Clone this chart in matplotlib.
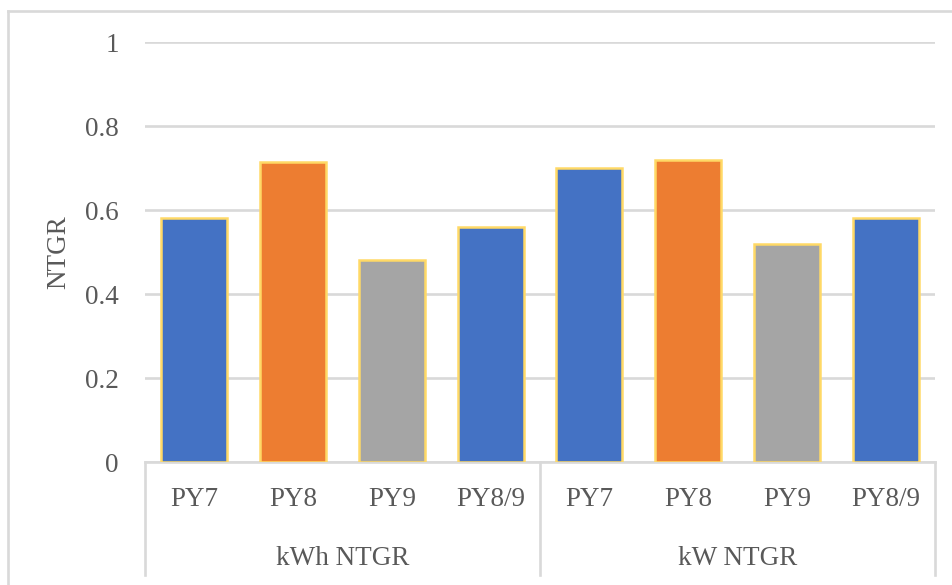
import matplotlib
matplotlib.use("Agg")
import matplotlib.pyplot as plt
from matplotlib.lines import Line2D

# Net-to-gross ratios by program year, for energy (kWh) and demand (kW)
groups = ["kWh NTGR", "kW NTGR"]
periods = ["PY7", "PY8", "PY9", "PY8/9"]
kwh_ntgr = [0.58, 0.715, 0.48, 0.56]
kw_ntgr = [0.70, 0.72, 0.52, 0.58]
period_colors = ["#4472C4", "#ED7D31", "#A5A5A5", "#4472C4"]
y_ticks = [0, 0.2, 0.4, 0.6, 0.8, 1.0]
y_tick_labels = ["0", "0.2", "0.4", "0.6", "0.8", "1"]

text_color = "#595959"
grid_color = "#D9D9D9"
fs = 19.5
plt.rcParams["font.family"] = ["Liberation Serif", "DejaVu Serif"]

fig = plt.figure(figsize=(9.52, 5.85), dpi=100)
W, H = 952, 585
left, right, top, bottom = 145, 935, 42, 462
ax = fig.add_axes([left / W, 1 - bottom / H, (right - left) / W, (bottom - top) / H])

values = kwh_ntgr + kw_ntgr
colors = period_colors * len(groups)
x = list(range(len(values)))
ax.bar(x, values, width=0.67, color=colors, edgecolor="#FFD966", linewidth=1.8, zorder=3)

ax.set_xlim(-0.5, len(values) - 0.5)
ax.set_ylim(0, 1)
ax.set_yticks(y_ticks)
ax.set_yticklabels(y_tick_labels)
ax.tick_params(axis="y", length=0, pad=19, labelsize=fs, labelcolor=text_color)
ax.set_xticks([])
ax.yaxis.grid(True, color=grid_color, linewidth=1.9, zorder=0)
for s in ["top", "right", "left"]:
    ax.spines[s].set_visible(False)
ax.spines["bottom"].set_color(grid_color)
ax.spines["bottom"].set_linewidth(1.9)

ax.set_ylabel("NTGR", fontsize=fs, color=text_color)
ax.yaxis.set_label_coords((71 - left) / (right - left), 0.5)

# Two-level category axis below the plot
depth = -(575 - bottom) / (bottom - top)
trans = ax.get_xaxis_transform()
n = len(periods)
for k in range(len(groups) + 1):
    xs = k * n - 0.5
    ax.plot([xs, xs], [0, depth], transform=trans, color=grid_color,
            linewidth=1.9, clip_on=False)
for i, xi in enumerate(x):
    ax.text(xi, -0.09, periods[i % n], transform=trans, ha="center", va="center",
            fontsize=fs, color=text_color)
for g, name in enumerate(groups):
    ax.text(g * n + (n - 1) / 2, -0.229, name, transform=trans, ha="center",
            va="center", fontsize=fs, color=text_color)

# Chart frame
fig.add_artist(Line2D([8 / W, 8 / W], [0, 1 - 11 / H], transform=fig.transFigure,
                      color=grid_color, linewidth=1.9))
fig.add_artist(Line2D([8 / W, 1], [1 - 11 / H, 1 - 11 / H], transform=fig.transFigure,
                      color=grid_color, linewidth=1.9))

fig.savefig("out.png", dpi=100, facecolor="white")
